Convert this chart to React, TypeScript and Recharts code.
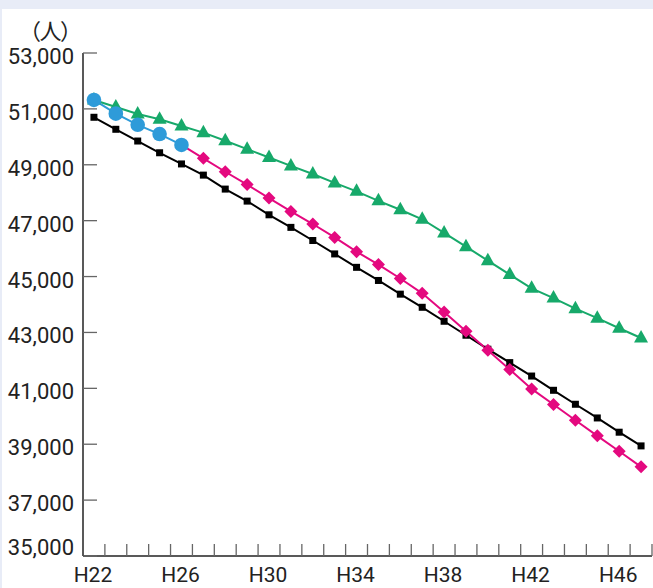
import { LineChart, Line, XAxis, YAxis } from 'recharts'

// 平成22年〜47年
const categories = [
  'H22', 'H23', 'H24', 'H25', 'H26', 'H27', 'H28', 'H29', 'H30', 'H31', 'H32', 'H33', 'H34',
  'H35', 'H36', 'H37', 'H38', 'H39', 'H40', 'H41', 'H42', 'H43', 'H44', 'H45', 'H46', 'H47',
]
const xTickLabels = ['H22', 'H26', 'H30', 'H34', 'H38', 'H42', 'H46']
const yTicks = [35000, 37000, 39000, 41000, 43000, 45000, 47000, 49000, 51000, 53000]

// 実績
const actual = [51320, 50830, 50430, 50100, 49710, null, null, null, null, null, null, null, null,
  null, null, null, null, null, null, null, null, null, null, null, null, null]
// 推計（黒）
const projBlack = [
  50700, 50270, 49850, 49430, 49030, 48630, 48130, 47700, 47210, 46760, 46290, 45810, 45330,
  44860, 44370, 43900, 43400, 42900, 42400, 41920, 41440, 40930, 40430, 39940, 39430, 38940,
]
// 推計（緑）
const projGreen = [
  51320, 51070, 50820, 50630, 50390, 50150, 49860, 49560, 49260, 48960, 48670, 48350, 48050,
  47710, 47390, 47050, 46560, 46070, 45570, 45070, 44580, 44230, 43850, 43510, 43150, 42800,
]
// 推計（ピンク）
const projPink = [
  null, null, null, null, 49710, 49230, 48750, 48290, 47810, 47330, 46880, 46400, 45890,
  45430, 44930, 44400, 43730, 43040, 42360, 41670, 40980, 40420, 39860, 39300, 38750, 38190,
]

const data = categories.map((label, i) => ({
  idx: i,
  label,
  actual: actual[i],
  black: projBlack[i],
  green: projGreen[i],
  pink: projPink[i],
}))

// labels sit on each category, tick marks on the boundaries between them
const xTicks = categories
  .flatMap((_, i) => [i, i + 0.5])
  .sort((a, b) => a - b)

const FONT = 'Roboto, "Liberation Sans", sans-serif'
const TICK_COLOR = '#666'

function XTick({ x, y, payload }: any) {
  const v = payload.value as number
  if (!Number.isInteger(v)) {
    return <line x1={x} x2={x} y1={y} y2={y - 12} stroke={TICK_COLOR} strokeWidth={1.3} />
  }
  const label = categories[v]
  if (!xTickLabels.includes(label)) return <g />
  return (
    <text x={x - 1} y={y + 26} textAnchor="middle" fontFamily={FONT} fontSize={21} fill="#222">
      {label}
    </text>
  )
}

function YTick({ x, y, payload }: any) {
  const v = payload.value as number
  const dy = v === yTicks[0] ? -1 : 11
  return (
    <g>
      <line x1={x} x2={x + 14} y1={y} y2={y} stroke={TICK_COLOR} strokeWidth={1.3} />
      <text x={x - 9} y={y + dy} textAnchor="end" fontFamily={FONT} fontSize={22} fill="#222">
        {v.toLocaleString('en-US')}
      </text>
    </g>
  )
}

const Square = ({ cx, cy }: any) =>
  cy == null ? <g /> : <rect x={cx - 3.5} y={cy - 3.5} width={7} height={7} fill="#000" />

const Triangle = ({ cx, cy }: any) =>
  cy == null ? <g /> : (
    <polygon points={`${cx},${cy - 8} ${cx + 7},${cy + 4.5} ${cx - 7},${cy + 4.5}`} fill="#17a96a" />
  )

const Diamond = ({ cx, cy }: any) =>
  cy == null ? <g /> : (
    <polygon points={`${cx},${cy - 6.5} ${cx + 6.5},${cy} ${cx},${cy + 6.5} ${cx - 6.5},${cy}`} fill="#e4097f" />
  )

const Circle = ({ cx, cy }: any) =>
  cy == null ? <g /> : <circle cx={cx} cy={cy} r={7.3} fill="#2e9bd9" />

export default function App() {
  return (
    <div style={{ position: 'absolute', left: 0, top: 0, width: 653, height: 588, background: '#e8ecf7', overflow: 'hidden' }}>
      <div style={{ position: 'absolute', left: 2, top: 9, right: 0, bottom: 0, background: '#fff' }} />
      <div
        style={{
          position: 'absolute',
          left: 19,
          top: 18,
          fontFamily: '"Noto Sans CJK JP", sans-serif',
          fontSize: 22,
          lineHeight: '22px',
          letterSpacing: '-1.5px',
          color: '#222',
        }}
      >
        （人）
      </div>
      <div style={{ position: 'absolute', left: 0, top: 0 }}>
        <LineChart width={653} height={588} data={data} margin={{ top: 53, right: 1, bottom: 0, left: 0 }}>
          <XAxis
            dataKey="idx"
            type="number"
            domain={[-0.5, 25.5]}
            ticks={xTicks}
            interval={0}
            height={32}
            tickSize={0}
            tickMargin={0}
            tickLine={false}
            tick={<XTick />}
            axisLine={{ stroke: '#222', strokeWidth: 1.5 }}
          />
          <YAxis
            type="number"
            domain={[35000, 53000]}
            ticks={yTicks}
            interval={0}
            width={83}
            tickSize={0}
            tickMargin={0}
            tickLine={false}
            tick={<YTick />}
            axisLine={{ stroke: '#222', strokeWidth: 1.5 }}
          />
          <Line dataKey="black" stroke="#000" strokeWidth={2} dot={<Square />} activeDot={false} isAnimationActive={false} />
          <Line dataKey="green" stroke="#17a96a" strokeWidth={2} dot={<Triangle />} activeDot={false} isAnimationActive={false} />
          <Line dataKey="pink" stroke="#e4097f" strokeWidth={2} dot={<Diamond />} activeDot={false} isAnimationActive={false} />
          <Line dataKey="actual" stroke="#2e9bd9" strokeWidth={2} dot={<Circle />} activeDot={false} isAnimationActive={false} />
        </LineChart>
      </div>
    </div>
  )
}
